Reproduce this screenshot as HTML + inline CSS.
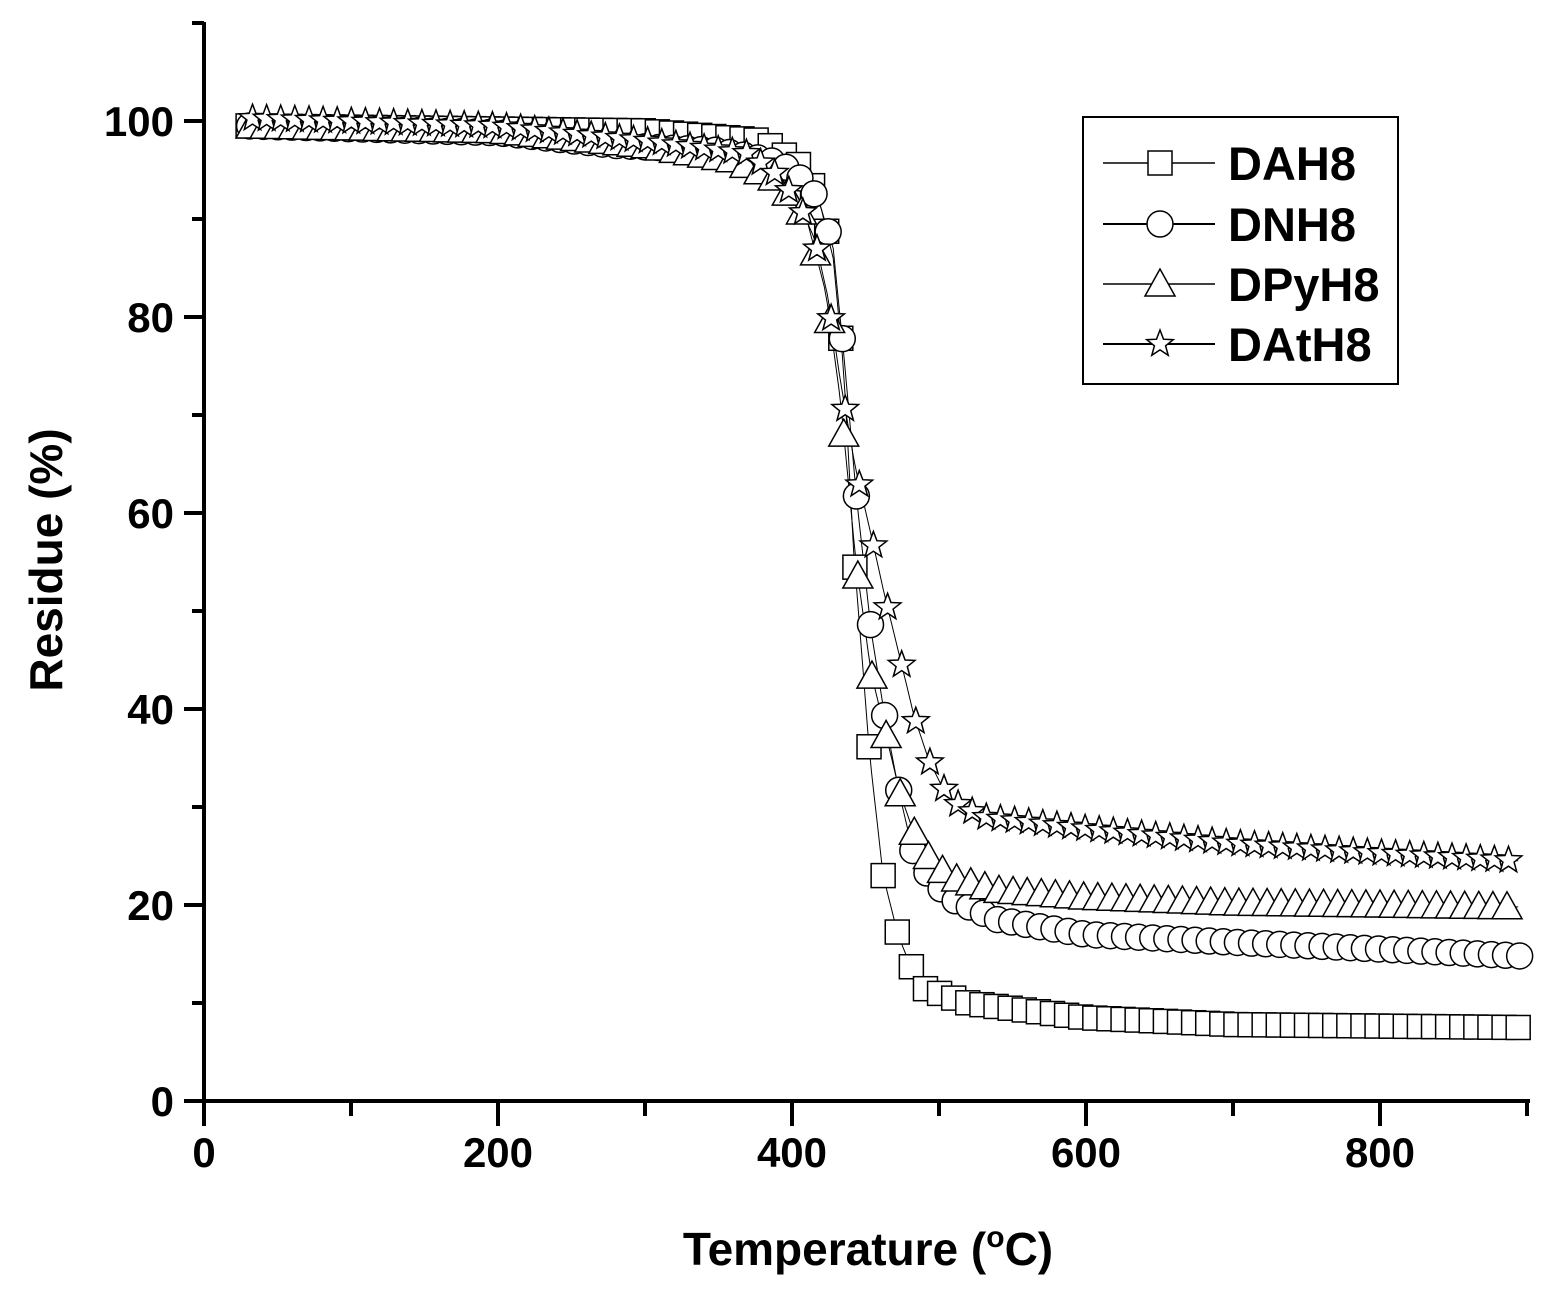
<!DOCTYPE html>
<html><head><meta charset="utf-8"><style>
html,body{margin:0;padding:0;background:#fff;}
svg{display:block;}
text{font-family:"Liberation Sans",Arial,sans-serif;font-weight:bold;fill:#000;}
</style></head><body>
<svg id="s" width="1562" height="1291" viewBox="0 0 1562 1291" xmlns="http://www.w3.org/2000/svg">
<g id="data"></g>
<line x1="204" y1="22" x2="204" y2="1102" stroke="#000" stroke-width="4"/>
<line x1="184" y1="1101" x2="1530" y2="1101" stroke="#000" stroke-width="4"/>
<g id="ticks" stroke="#000" stroke-width="4"></g>
<g font-size="42" text-anchor="middle">
<text x="204" y="1167">0</text><text x="498" y="1167">200</text><text x="792" y="1167">400</text><text x="1086" y="1167">600</text><text x="1380" y="1167">800</text>
</g>
<g font-size="42" text-anchor="end">
<text x="174" y="1116">0</text><text x="174" y="920">20</text><text x="174" y="724">40</text><text x="174" y="528">60</text><text x="174" y="332">80</text><text x="174" y="136">100</text>
</g>
<text x="868" y="1265" font-size="46" text-anchor="middle">Temperature (<tspan font-size="30" dy="-18">o</tspan><tspan dy="18">C)</tspan></text>
<text transform="translate(62,560) rotate(-90)" font-size="46" text-anchor="middle">Residue (%)</text>
<rect x="1083" y="117" width="315" height="267" fill="#fff" stroke="#000" stroke-width="2"/>
<g stroke="#000" stroke-width="1.5" fill="none">
<line x1="1103" y1="163" x2="1215" y2="163"/>
<line x1="1103" y1="224" x2="1215" y2="224" stroke-width="2"/>
<line x1="1103" y1="284" x2="1215" y2="284"/>
<line x1="1103" y1="344" x2="1215" y2="344" stroke-width="2"/>
</g>
<g id="leg"></g>
<g font-size="47">
<text x="1228" y="180">DAH8</text><text x="1228" y="241">DNH8</text><text x="1228" y="301">DPyH8</text><text x="1228" y="361">DAtH8</text>
</g>
</svg>
<script>
var NS="http://www.w3.org/2000/svg";
function X(t){return 204+t*1.47;}function Y(r){return 1101-r*9.8;}
var tk=document.getElementById('ticks');
function ln(p,a,b,c,d){var l=document.createElementNS(NS,'line');l.setAttribute('x1',a);l.setAttribute('y1',b);l.setAttribute('x2',c);l.setAttribute('y2',d);p.appendChild(l);}
for(var t=0;t<=900;t+=100){ln(tk,X(t),1101,X(t),t%200==0?1126:1116);}
for(var r=0;r<=110;r+=10){ln(tk,r%20==0?184:192,Y(r),204,Y(r));}
var S={
sq:[[30,99.5],[300,99],[380,98],[410,95],[420,91],[428,86],[435,75],[442,56],[453,35],[462,23],[472,17],[480,14],[490,11.5],[520,10],[600,8.5],[700,7.8],[895,7.5]],
ci:[[30,99.5],[200,98.8],[280,97.5],[350,97],[385,96],[400,95],[410,93.5],[418,92],[428,87],[435,76.6],[444,61.4],[454,47.8],[464,38.4],[473,31.4],[482,25.6],[495,22.5],[510,20.5],[540,18.5],[600,17],[700,16.2],[800,15.5],[895,14.8]],
tr:[[30,99.5],[200,99],[300,97.5],[360,96],[390,94],[410,90],[423,82.5],[433,71.5],[443.5,55],[453.7,43.8],[464,37.3],[473.5,31.4],[481.6,27.9],[490,25.4],[500.7,23.7],[511,22.7],[540,21.5],[600,20.8],[700,20.2],[895,19.8]],
st:[[30,100.3],[200,99.5],[300,98],[370,96.7],[390,94.5],[405,91.5],[415.6,87.9],[424.5,82],[433,73.4],[443,64.7],[453,58.3],[463,51.6],[473.5,45.2],[483,39.3],[493,34.8],[502,32.1],[511.6,30.4],[530,29],[600,27.8],[700,26.3],[800,25.3],[895,24.5]]};
function interp(a,t){for(var i=1;i<a.length;i++){if(t<=a[i][0]){var p=a[i-1],q=a[i];return p[1]+(q[1]-p[1])*(t-p[0])/(q[0]-p[0]);}}return a[a.length-1][1];}
function star(cx,cy,R){var s='';for(var i=0;i<10;i++){var rr=i%2?R*0.42:R;var a=-Math.PI/2+i*Math.PI/5;s+=(cx+rr*Math.cos(a)).toFixed(1)+','+(cy+rr*Math.sin(a)).toFixed(1)+' ';}return s;}
function mk(p,type,x,y){var e;
if(type=='sq'){e=document.createElementNS(NS,'rect');e.setAttribute('x',x-12);e.setAttribute('y',y-12);e.setAttribute('width',24);e.setAttribute('height',24);}
else if(type=='ci'){e=document.createElementNS(NS,'circle');e.setAttribute('cx',x);e.setAttribute('cy',y);e.setAttribute('r',13);}
else if(type=='tr'){e=document.createElementNS(NS,'polygon');e.setAttribute('points',(x)+','+(y-15)+' '+(x-15)+','+(y+12)+' '+(x+15)+','+(y+12));}
else{e=document.createElementNS(NS,'polygon');e.setAttribute('points',star(x,y,14));}
e.setAttribute('fill','#fff');e.setAttribute('stroke','#000');e.setAttribute('stroke-width','1.5');p.appendChild(e);}
var d=document.getElementById('data');
var off={sq:0,ci:2.5,tr:5,st:7.5};
['sq','ci','tr','st'].forEach(function(k){var a=S[k];var pts='';
for(var t=30;t<=895;t+=2)pts+=X(t).toFixed(1)+','+Y(interp(a,t)).toFixed(1)+' ';
var pl=document.createElementNS(NS,'polyline');pl.setAttribute('points',pts);pl.setAttribute('fill','none');pl.setAttribute('stroke','#000');pl.setAttribute('stroke-width','1');d.appendChild(pl);});
['sq','ci','tr','st'].forEach(function(k){var a=S[k];
for(var t=30+off[k]*0.4;t<=896;t+=9.6)mk(d,k,X(t),Y(interp(a,t)));});
var lg=document.getElementById('leg');
mk(lg,'sq',1160,163);mk(lg,'ci',1160,224);mk(lg,'tr',1160,284);mk(lg,'st',1160,344);
</script>
</body></html>
